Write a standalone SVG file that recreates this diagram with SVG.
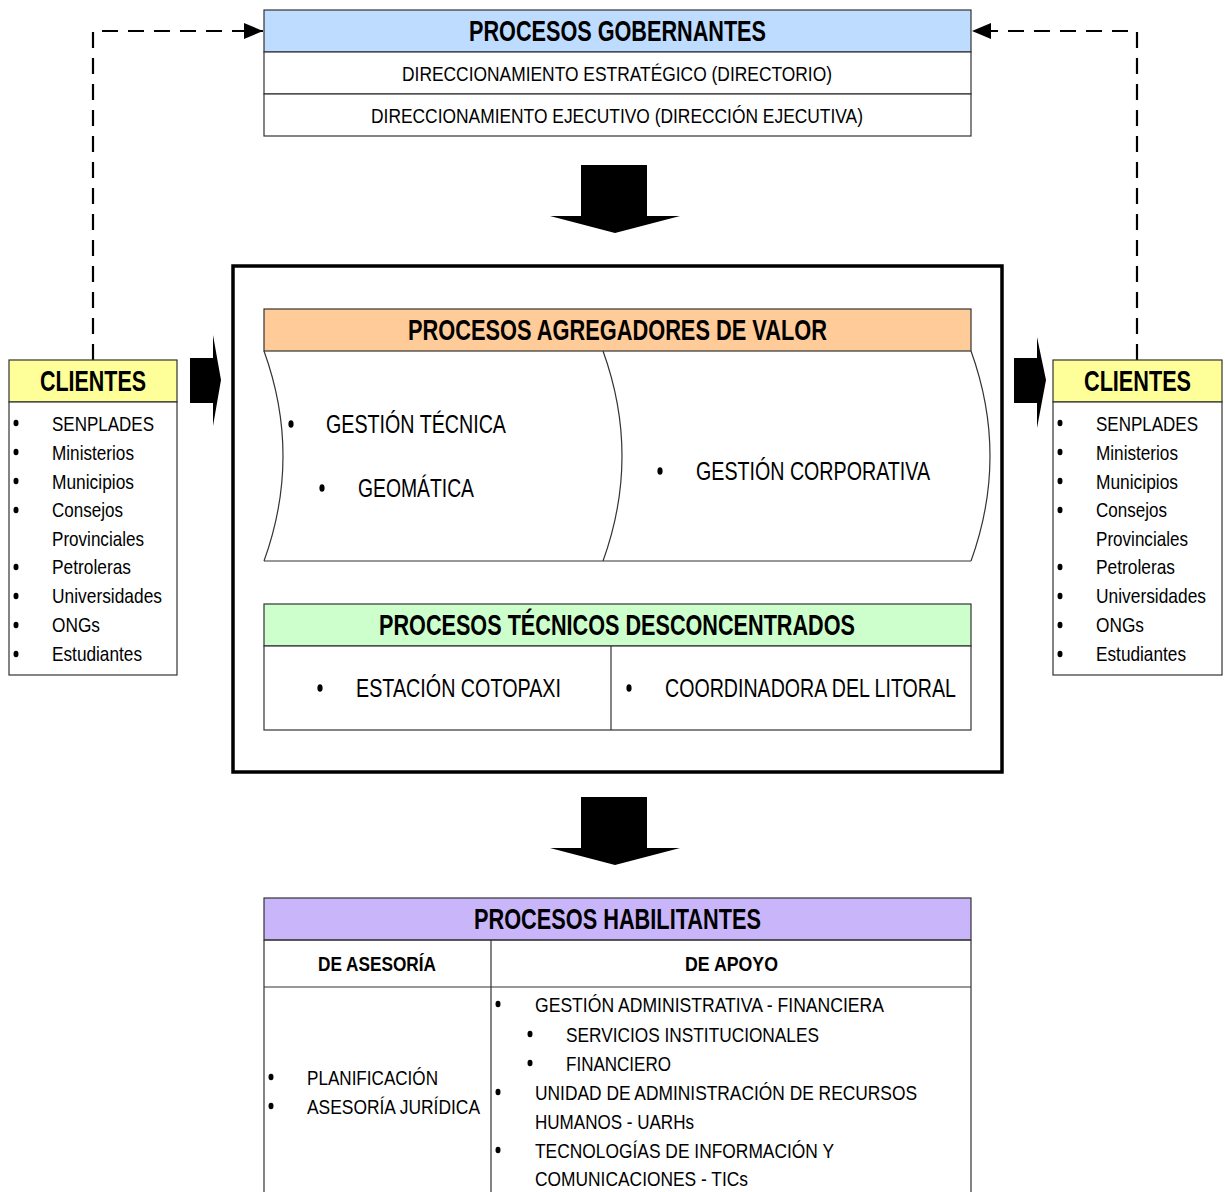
<svg xmlns="http://www.w3.org/2000/svg" width="1225" height="1192" viewBox="0 0 1225 1192">
<style>
text{font-family:"Liberation Sans Narrow","Liberation Sans",Arial,sans-serif;fill:#000}
.h{font-size:30px;font-weight:bold;text-anchor:middle}
.r{font-size:21px;text-anchor:middle}
.i{font-size:21px}
.m{font-size:25px}
.b{font-size:21px;font-weight:bold;text-anchor:middle}
.box{fill:#fff;stroke:#333;stroke-width:1.2}
.ln{stroke:#333;stroke-width:1.2;fill:none}
.dash{fill:none;stroke:#000;stroke-width:2.2;stroke-dasharray:16 10}
.blk{fill:#000}
</style>
<defs>
<marker id="ah" viewBox="0 0 19 16" refX="19" refY="8" markerWidth="19" markerHeight="16" markerUnits="userSpaceOnUse" orient="auto"><path d="M0,0 L19,8 L0,16 z" fill="#000"/></marker>
</defs>

<g id="connectors">
<path class="dash" d="M93,360 V31 H263" marker-end="url(#ah)"/>
<path class="dash" d="M1137,360 V31 H972" marker-end="url(#ah)"/>
<path class="blk" d="M581,165 H647 V216 H680 L615,233 L550,216 H581 z"/>
<path class="blk" d="M581,797 H647 V848 H680 L615,865 L550,848 H581 z"/>
<path class="blk" d="M190,358 H213 V335 L221,380 L213,426 V403 H190 z"/>
<path class="blk" d="M1014,358 H1037 V337 L1046,380 L1037,428 V403 H1014 z"/>
</g>

<g id="gobernantes">
<rect x="264" y="10" width="707" height="42" fill="#BDDCFF" stroke="#333" stroke-width="1.2"/>
<rect class="box" x="264" y="52" width="707" height="42"/>
<rect class="box" x="264" y="94" width="707" height="42"/>
<text class="h" x="617.5" y="41" textLength="297" lengthAdjust="spacingAndGlyphs">PROCESOS GOBERNANTES</text>
<text class="r" x="617" y="81" textLength="430" lengthAdjust="spacingAndGlyphs">DIRECCIONAMIENTO ESTRATÉGICO (DIRECTORIO)</text>
<text class="r" x="617" y="123" textLength="492" lengthAdjust="spacingAndGlyphs">DIRECCIONAMIENTO EJECUTIVO (DIRECCIÓN EJECUTIVA)</text>
</g>

<g id="frame">
<rect x="233" y="266" width="769" height="506" fill="none" stroke="#000" stroke-width="3.5"/>
</g>

<g id="agregadores">
<rect x="264" y="309" width="707" height="42" fill="#FFCC99" stroke="#333" stroke-width="1.2"/>
<text class="h" x="617.5" y="340" textLength="419" lengthAdjust="spacingAndGlyphs">PROCESOS AGREGADORES DE VALOR</text>
<path class="ln" d="M264,351 Q302,456 264,561"/>
<path class="ln" d="M603,351 Q641,456 603,561"/>
<path class="ln" d="M971,351 Q1009,456 971,561"/>
<path class="ln" d="M264,561 H971"/>
<ellipse cx="291" cy="424" rx="2.6" ry="3.8"/>
<text class="m" x="326" y="433" textLength="180" lengthAdjust="spacingAndGlyphs">GESTIÓN TÉCNICA</text>
<ellipse cx="322" cy="488" rx="2.6" ry="3.8"/>
<text class="m" x="358" y="497" textLength="116" lengthAdjust="spacingAndGlyphs">GEOMÁTICA</text>
<ellipse cx="660" cy="471" rx="2.6" ry="3.8"/>
<text class="m" x="696" y="480" textLength="234" lengthAdjust="spacingAndGlyphs">GESTIÓN CORPORATIVA</text>
</g>

<g id="desconcentrados">
<rect x="264" y="604" width="707" height="42" fill="#CCFFCC" stroke="#333" stroke-width="1.2"/>
<rect class="box" x="264" y="646" width="707" height="84"/>
<path class="ln" d="M611,646 V730"/>
<text class="h" x="617" y="635" textLength="476" lengthAdjust="spacingAndGlyphs">PROCESOS TÉCNICOS DESCONCENTRADOS</text>
<ellipse cx="320" cy="688" rx="2.6" ry="3.8"/>
<text class="m" x="356" y="697" textLength="205" lengthAdjust="spacingAndGlyphs">ESTACIÓN COTOPAXI</text>
<ellipse cx="629" cy="688" rx="2.6" ry="3.8"/>
<text class="m" x="665" y="697" textLength="291" lengthAdjust="spacingAndGlyphs">COORDINADORA DEL LITORAL</text>
</g>

<g id="clientes-izq">
<rect x="9" y="360" width="168" height="42" fill="#FFFF99" stroke="#333" stroke-width="1.2"/>
<rect class="box" x="9" y="402" width="168" height="273"/>
<text class="h" x="93" y="391" textLength="106" lengthAdjust="spacingAndGlyphs">CLIENTES</text>
<ellipse cx="16" cy="423" rx="2.5" ry="3.3"/><text class="i" x="52" y="431" textLength="102" lengthAdjust="spacingAndGlyphs">SENPLADES</text>
<ellipse cx="16" cy="452" rx="2.5" ry="3.3"/><text class="i" x="52" y="460" textLength="82" lengthAdjust="spacingAndGlyphs">Ministerios</text>
<ellipse cx="16" cy="481" rx="2.5" ry="3.3"/><text class="i" x="52" y="489" textLength="82" lengthAdjust="spacingAndGlyphs">Municipios</text>
<ellipse cx="16" cy="510" rx="2.5" ry="3.3"/><text class="i" x="52" y="517" textLength="71" lengthAdjust="spacingAndGlyphs">Consejos</text>
<text class="i" x="52" y="546" textLength="92" lengthAdjust="spacingAndGlyphs">Provinciales</text>
<ellipse cx="16" cy="567" rx="2.5" ry="3.3"/><text class="i" x="52" y="574" textLength="79" lengthAdjust="spacingAndGlyphs">Petroleras</text>
<ellipse cx="16" cy="596" rx="2.5" ry="3.3"/><text class="i" x="52" y="603" textLength="110" lengthAdjust="spacingAndGlyphs">Universidades</text>
<ellipse cx="16" cy="625" rx="2.5" ry="3.3"/><text class="i" x="52" y="632" textLength="48" lengthAdjust="spacingAndGlyphs">ONGs</text>
<ellipse cx="16" cy="654" rx="2.5" ry="3.3"/><text class="i" x="52" y="661" textLength="90" lengthAdjust="spacingAndGlyphs">Estudiantes</text>
</g>

<g id="clientes-der">
<rect x="1053" y="360" width="169" height="42" fill="#FFFF99" stroke="#333" stroke-width="1.2"/>
<rect class="box" x="1053" y="402" width="169" height="273"/>
<text class="h" x="1137.5" y="391" textLength="107" lengthAdjust="spacingAndGlyphs">CLIENTES</text>
<ellipse cx="1060" cy="423" rx="2.5" ry="3.3"/><text class="i" x="1096" y="431" textLength="102" lengthAdjust="spacingAndGlyphs">SENPLADES</text>
<ellipse cx="1060" cy="452" rx="2.5" ry="3.3"/><text class="i" x="1096" y="460" textLength="82" lengthAdjust="spacingAndGlyphs">Ministerios</text>
<ellipse cx="1060" cy="481" rx="2.5" ry="3.3"/><text class="i" x="1096" y="489" textLength="82" lengthAdjust="spacingAndGlyphs">Municipios</text>
<ellipse cx="1060" cy="510" rx="2.5" ry="3.3"/><text class="i" x="1096" y="517" textLength="71" lengthAdjust="spacingAndGlyphs">Consejos</text>
<text class="i" x="1096" y="546" textLength="92" lengthAdjust="spacingAndGlyphs">Provinciales</text>
<ellipse cx="1060" cy="567" rx="2.5" ry="3.3"/><text class="i" x="1096" y="574" textLength="79" lengthAdjust="spacingAndGlyphs">Petroleras</text>
<ellipse cx="1060" cy="596" rx="2.5" ry="3.3"/><text class="i" x="1096" y="603" textLength="110" lengthAdjust="spacingAndGlyphs">Universidades</text>
<ellipse cx="1060" cy="625" rx="2.5" ry="3.3"/><text class="i" x="1096" y="632" textLength="48" lengthAdjust="spacingAndGlyphs">ONGs</text>
<ellipse cx="1060" cy="654" rx="2.5" ry="3.3"/><text class="i" x="1096" y="661" textLength="90" lengthAdjust="spacingAndGlyphs">Estudiantes</text>
</g>

<g id="habilitantes">
<rect x="264" y="898" width="707" height="42" fill="#C9B5FA" stroke="#333" stroke-width="1.2"/>
<path class="ln" d="M264,940 V1192 M971,940 V1192 M491,940 V1192 M264,940 H971 M264,987 H971"/>
<text class="h" x="617.5" y="929" textLength="287" lengthAdjust="spacingAndGlyphs">PROCESOS HABILITANTES</text>
<text class="b" x="377" y="971" textLength="118" lengthAdjust="spacingAndGlyphs">DE ASESORÍA</text>
<text class="b" x="731.5" y="971" textLength="93" lengthAdjust="spacingAndGlyphs">DE APOYO</text>
<ellipse cx="271" cy="1077" rx="2.5" ry="3.3"/><text class="i" x="307" y="1085" textLength="131" lengthAdjust="spacingAndGlyphs">PLANIFICACIÓN</text>
<ellipse cx="271" cy="1106" rx="2.5" ry="3.3"/><text class="i" x="307" y="1114" textLength="173" lengthAdjust="spacingAndGlyphs">ASESORÍA JURÍDICA</text>
<ellipse cx="498" cy="1004" rx="2.5" ry="3.3"/><text class="i" x="535" y="1012" textLength="349" lengthAdjust="spacingAndGlyphs">GESTIÓN ADMINISTRATIVA - FINANCIERA</text>
<ellipse cx="530" cy="1034" rx="2.5" ry="3.3"/><text class="i" x="566" y="1042" textLength="253" lengthAdjust="spacingAndGlyphs">SERVICIOS INSTITUCIONALES</text>
<ellipse cx="530" cy="1063" rx="2.5" ry="3.3"/><text class="i" x="566" y="1071" textLength="105" lengthAdjust="spacingAndGlyphs">FINANCIERO</text>
<ellipse cx="498" cy="1092" rx="2.5" ry="3.3"/><text class="i" x="535" y="1100" textLength="382" lengthAdjust="spacingAndGlyphs">UNIDAD DE ADMINISTRACIÓN DE RECURSOS</text>
<text class="i" x="535" y="1129" textLength="159" lengthAdjust="spacingAndGlyphs">HUMANOS - UARHs</text>
<ellipse cx="498" cy="1150" rx="2.5" ry="3.3"/><text class="i" x="535" y="1158" textLength="299" lengthAdjust="spacingAndGlyphs">TECNOLOGÍAS DE INFORMACIÓN Y</text>
<text class="i" x="535" y="1186" textLength="213" lengthAdjust="spacingAndGlyphs">COMUNICACIONES - TICs</text>
</g>
</svg>
